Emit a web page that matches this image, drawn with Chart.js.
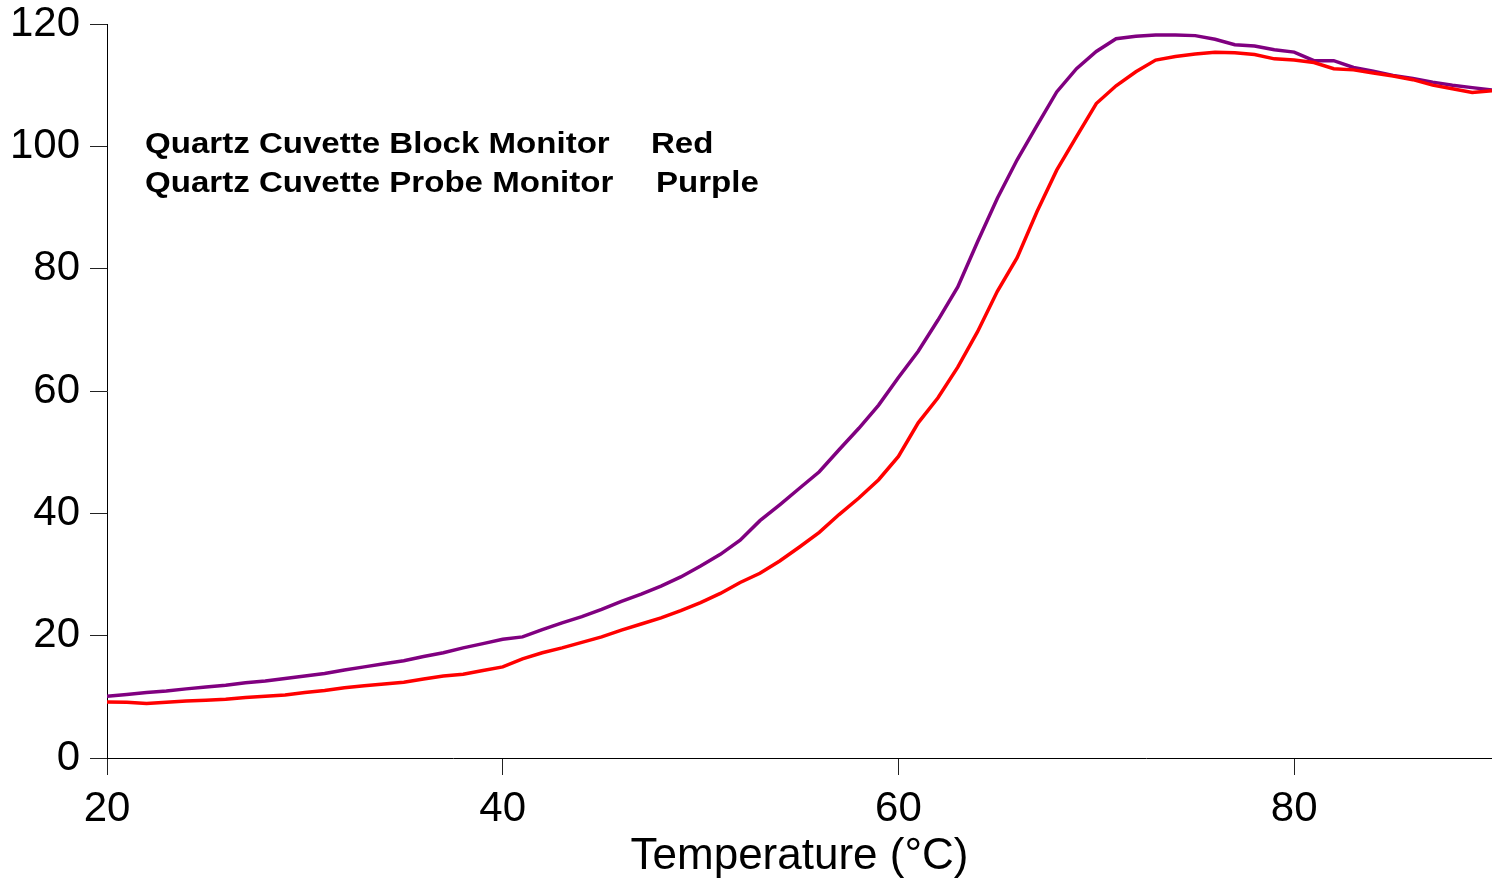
<!DOCTYPE html>
<html>
<head>
<meta charset="utf-8">
<title>Quartz Cuvette Monitor</title>
<script src="https://cdn.jsdelivr.net/npm/chart.js@4.4.1/dist/chart.umd.min.js"></script>
<style>
    html, body { margin: 0; padding: 0; background: #fff; }
    #wrap { width: 1492px; height: 879px; }
</style>
</head>
<body>
<div id="wrap"><canvas id="meltChart" width="1492" height="879"></canvas></div>
<script>
// Temperature points (°C)
const temps = [20, 21, 22, 23, 24, 25, 26, 27, 28, 29,
    30, 31, 32, 33, 34, 35, 36, 37, 38, 39,
    40, 41, 42, 43, 44, 45, 46, 47, 48, 49,
    50, 51, 52, 53, 54, 55, 56, 57, 58, 59,
    60, 61, 62, 63, 64, 65, 66, 67, 68, 69,
    70, 71, 72, 73, 74, 75, 76, 77, 78, 79,
    80, 81, 82, 83, 84, 85, 86, 87, 88, 89, 90];

// Block monitor (red)
const blockValues = [9.15, 9.1, 8.9, 9.1, 9.3, 9.45, 9.6, 9.9, 10.1, 10.3,
    10.7, 11.05, 11.5, 11.8, 12.1, 12.4, 12.9, 13.4, 13.7, 14.3,
    14.9, 16.2, 17.2, 18.0, 18.9, 19.8, 20.9, 21.9, 22.9, 24.1,
    25.4, 26.9, 28.7, 30.2, 32.2, 34.5, 36.9, 39.8, 42.5, 45.5,
    49.3, 54.8, 58.9, 63.9, 69.7, 76.3, 81.8, 89.3, 96.1, 101.6,
    107.0, 109.9, 112.2, 114.1, 114.7, 115.1, 115.4, 115.3, 115.0, 114.3,
    114.1, 113.7, 112.7, 112.5, 112.0, 111.5, 110.9, 110.0, 109.4, 108.8, 109.1];

// Probe monitor (purple)
const probeValues = [10.1, 10.4, 10.7, 10.95, 11.3, 11.6, 11.9, 12.3, 12.6, 13.0,
    13.4, 13.8, 14.4, 14.9, 15.4, 15.9, 16.6, 17.2, 18.0, 18.7,
    19.4, 19.8, 21.0, 22.1, 23.1, 24.3, 25.6, 26.8, 28.1, 29.6,
    31.4, 33.3, 35.6, 38.8, 41.4, 44.1, 46.8, 50.4, 53.9, 57.7,
    62.2, 66.5, 71.6, 77.0, 84.4, 91.5, 97.8, 103.4, 108.9, 112.7,
    115.5, 117.6, 118.0, 118.2, 118.2, 118.1, 117.5, 116.6, 116.4, 115.8,
    115.4, 114.0, 114.0, 112.9, 112.3, 111.6, 111.1, 110.5, 110.0, 109.6, 109.2];

const xTickValues = [20, 40, 60, 80];
const yTickValues = [0, 20, 40, 60, 80, 100, 120];

const FONT = "'Liberation Sans', Arial, sans-serif";

function toPoints(xs, ys) {
    return xs.map((x, i) => ({ x: x, y: ys[i] }));
}

// Draws the two-line label block in the upper left (text is a bit stretched, like the original)
const labelPlugin = {
    id: 'monitorLabels',
    afterDraw(chart) {
        const ctx = chart.ctx;
        const sx = 1.14;
        ctx.save();
        ctx.fillStyle = '#000';
        ctx.font = "bold 29px " + FONT;
        ctx.textBaseline = 'alphabetic';
        ctx.scale(sx, 1);
        ctx.fillText('Quartz Cuvette Block Monitor', 145 / sx, 153);
        ctx.fillText('Red', 651 / sx, 153);
        ctx.fillText('Quartz Cuvette Probe Monitor', 145 / sx, 192);
        ctx.fillText('Purple', 656 / sx, 192);
        ctx.restore();
    }
};

const ctx = document.getElementById('meltChart').getContext('2d');
new Chart(ctx, {
    type: 'line',
    data: {
        datasets: [{
            label: 'Quartz Cuvette Block Monitor',
            data: toPoints(temps, blockValues),
            borderColor: '#ff0000',
            borderWidth: 3.5,
            pointRadius: 0,
            tension: 0,
            fill: false
        }, {
            label: 'Quartz Cuvette Probe Monitor',
            data: toPoints(temps, probeValues),
            borderColor: '#800080',
            borderWidth: 3.5,
            pointRadius: 0,
            tension: 0,
            fill: false
        }]
    },
    options: {
        responsive: false,
        animation: false,
        devicePixelRatio: 1,
        layout: { padding: { top: 24, right: 0, left: 0, bottom: 0 } },
        plugins: {
            legend: { display: false },
            tooltip: { enabled: false }
        },
        scales: {
            x: {
                type: 'linear',
                min: 20,
                max: 90,
                afterBuildTicks(axis) {
                    axis.ticks = xTickValues.map(v => ({ value: v }));
                },
                afterFit(axis) {
                    axis.height = 121;
                    axis.paddingLeft = 0;
                    axis.paddingRight = 0;
                },
                grid: { display: true, drawOnChartArea: false, drawTicks: true, tickLength: 17, color: '#222' },
                border: { display: true, color: '#000', width: 1 },
                ticks: {
                    color: '#000',
                    padding: 9,
                    maxRotation: 0,
                    font: { family: FONT, size: 42 }
                },
                title: {
                    display: true,
                    text: 'Temperature (°C)',
                    color: '#000',
                    padding: { top: 0, bottom: 0 },
                    font: { family: FONT, size: 44, lineHeight: 1.0 }
                }
            },
            y: {
                type: 'linear',
                min: 0,
                max: 120,
                afterBuildTicks(axis) {
                    axis.ticks = yTickValues.map(v => ({ value: v }));
                },
                afterFit(axis) {
                    axis.width = 107;
                    axis.paddingTop = 0;
                    axis.paddingBottom = 0;
                },
                grid: { display: true, drawOnChartArea: false, drawTicks: true, tickLength: 17, color: '#222' },
                border: { display: true, color: '#000', width: 1 },
                ticks: {
                    color: '#000',
                    padding: 10,
                    font: { family: FONT, size: 42 }
                }
            }
        }
    },
    plugins: [labelPlugin]
});
</script>
</body>
</html>
